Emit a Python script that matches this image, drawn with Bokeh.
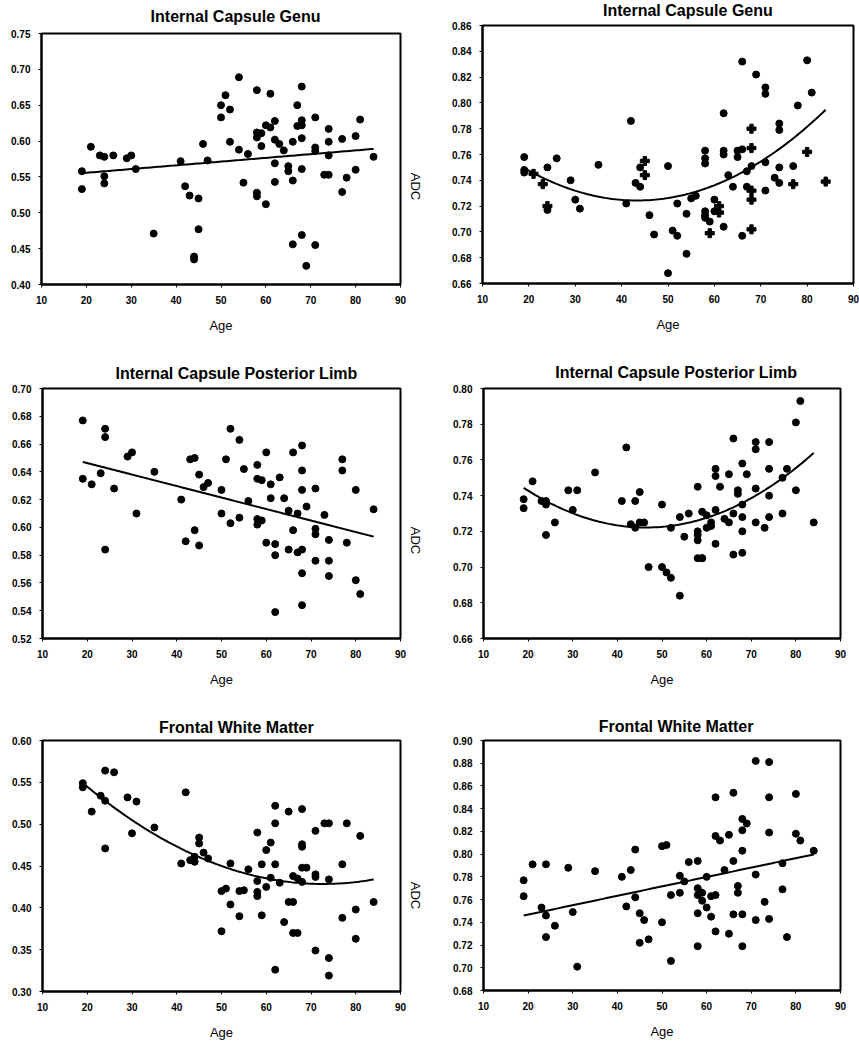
import math
import numpy as np
from bokeh.plotting import figure
from bokeh.layouts import column, row
from bokeh.models import Range1d, FixedTicker, PrintfTickFormatter
from bokeh.core.properties import value
from bokeh.embed import file_html
from bokeh.resources import INLINE

# ---------------- data ----------------
x_ticks = [10, 20, 30, 40, 50, 60, 70, 80, 90]
y_label = "ADC"
x_label = "Age"

# Panel 1: Internal Capsule Genu (linear trend)
title1 = "Internal Capsule Genu"
age1 = [19, 19, 21, 23, 24, 24, 24, 26, 29, 30, 31, 35, 41, 42, 43, 44, 44, 45, 45, 46, 47,
        50, 50, 51, 52, 52, 54, 54, 55, 56, 58, 58, 58, 58, 58, 59, 59, 60, 60, 61, 61,
        62, 62, 62, 62, 63, 64, 65, 65, 66, 66, 66, 67, 67, 68, 68, 68, 68, 68, 68, 69,
        71, 71, 71, 71, 73, 74, 74, 74, 74, 77, 77, 78, 80, 80, 81, 84]
adc1 = [0.558, 0.533, 0.592, 0.580, 0.578, 0.551, 0.541, 0.580, 0.576, 0.580, 0.561, 0.471,
        0.572, 0.537, 0.524, 0.439, 0.435, 0.520, 0.477, 0.596, 0.573,
        0.650, 0.633, 0.664, 0.644, 0.599, 0.689, 0.588, 0.542, 0.582, 0.671, 0.612, 0.605,
        0.528, 0.523, 0.611, 0.593, 0.512, 0.622, 0.666, 0.619,
        0.628, 0.602, 0.569, 0.543, 0.596, 0.587, 0.565, 0.558, 0.599, 0.545, 0.456, 0.650,
        0.621, 0.676, 0.629, 0.622, 0.604, 0.561, 0.469, 0.426,
        0.633, 0.591, 0.586, 0.455, 0.553, 0.553, 0.617, 0.599, 0.580, 0.603, 0.529, 0.549,
        0.607, 0.560, 0.630, 0.578]
yticks1 = [0.40, 0.45, 0.50, 0.55, 0.60, 0.65, 0.70, 0.75]

# Panel 2: Internal Capsule Genu (quadratic trend); circles and cross-shaped points
title2 = "Internal Capsule Genu"
age2 = [19, 19, 19, 24, 24, 26, 29, 30, 31, 35, 41, 42, 43, 44, 44, 46, 47, 50, 50, 51, 52, 52,
        54, 54, 55, 56, 58, 58, 58, 58, 58, 58, 59, 60, 60, 62, 62, 62, 62, 63, 64, 65, 65,
        66, 66, 66, 67, 67, 68, 69, 71, 71, 71, 71, 73, 74, 74, 74, 74, 77, 78, 80, 81]
adc2 = [0.758, 0.748, 0.746, 0.750, 0.717, 0.757, 0.740, 0.725, 0.718, 0.752, 0.722, 0.786,
        0.738, 0.750, 0.735, 0.713, 0.698, 0.751, 0.668, 0.701, 0.722, 0.697,
        0.714, 0.683, 0.726, 0.728, 0.763, 0.757, 0.753, 0.716, 0.713, 0.711, 0.708, 0.725,
        0.716, 0.792, 0.763, 0.760, 0.704, 0.744, 0.735, 0.758, 0.763,
        0.764, 0.832, 0.697, 0.747, 0.735, 0.751, 0.822, 0.812, 0.807, 0.754, 0.732, 0.742,
        0.784, 0.779, 0.750, 0.738, 0.751, 0.798, 0.833, 0.808]
age2_cross = [21, 23, 24, 45, 45, 59, 61, 61, 68, 68, 68, 68, 68, 77, 80, 84]
adc2_cross = [0.745, 0.737, 0.720, 0.755, 0.744, 0.699, 0.720, 0.715, 0.780, 0.765, 0.732,
              0.725, 0.702, 0.737, 0.762, 0.739]
yticks2 = [0.66, 0.68, 0.70, 0.72, 0.74, 0.76, 0.78, 0.80, 0.82, 0.84, 0.86]

# Panel 3: Internal Capsule Posterior Limb (linear trend)
title3 = "Internal Capsule Posterior Limb"
age3 = [19, 19, 21, 23, 24, 24, 24, 26, 29, 30, 31, 35, 41, 42, 43, 44, 44, 45, 45, 46, 47,
        50, 50, 51, 52, 52, 54, 54, 55, 56, 58, 58, 58, 58, 59, 59, 60, 60, 61, 61, 62, 62,
        62, 63, 64, 65, 65, 66, 66, 67, 67, 68, 68, 68, 68, 68, 68, 69, 71, 71, 71, 71, 73,
        74, 74, 74, 77, 77, 78, 80, 80, 81, 84]
adc3 = [0.677, 0.635, 0.631, 0.639, 0.671, 0.665, 0.584, 0.628, 0.651, 0.654, 0.610, 0.640,
        0.620, 0.590, 0.649, 0.650, 0.598, 0.638, 0.587, 0.629, 0.632,
        0.627, 0.610, 0.649, 0.671, 0.603, 0.663, 0.607, 0.642, 0.619, 0.645, 0.635, 0.606,
        0.602, 0.634, 0.605, 0.654, 0.589, 0.631, 0.621, 0.588, 0.580,
        0.539, 0.636, 0.621, 0.612, 0.584, 0.654, 0.598, 0.610, 0.582, 0.659, 0.641, 0.627,
        0.584, 0.567, 0.544, 0.615, 0.628, 0.599, 0.595, 0.576, 0.609,
        0.591, 0.576, 0.565, 0.649, 0.641, 0.589, 0.627, 0.562, 0.552, 0.613]
yticks3 = [0.52, 0.54, 0.56, 0.58, 0.60, 0.62, 0.64, 0.66, 0.68, 0.70]

# Panel 4: Internal Capsule Posterior Limb (quadratic trend)
title4 = "Internal Capsule Posterior Limb"
age4 = [19, 19, 21, 23, 24, 24, 24, 26, 29, 30, 31, 35, 41, 42, 43, 44, 44, 45, 45, 46, 47,
        50, 50, 51, 52, 52, 54, 54, 55, 56, 58, 58, 58, 58, 58, 59, 59, 59, 60, 60, 61, 61,
        62, 62, 62, 62, 63, 64, 65, 65, 66, 66, 66, 67, 67, 68, 68, 68, 68, 68, 69,
        71, 71, 71, 71, 73, 74, 74, 74, 74, 77, 77, 78, 80, 80, 81, 84]
adc4 = [0.738, 0.733, 0.748, 0.737, 0.737, 0.735, 0.718, 0.725, 0.743, 0.732, 0.743, 0.753,
        0.737, 0.767, 0.724, 0.737, 0.722, 0.742, 0.725, 0.725, 0.700,
        0.735, 0.700, 0.697, 0.722, 0.694, 0.728, 0.684, 0.717, 0.730, 0.745, 0.720, 0.718,
        0.715, 0.705, 0.705, 0.731, 0.705, 0.729, 0.722, 0.725, 0.723,
        0.755, 0.751, 0.732, 0.713, 0.745, 0.727, 0.752, 0.725, 0.772, 0.730, 0.707, 0.743,
        0.741, 0.758, 0.735, 0.728, 0.720, 0.708, 0.752,
        0.770, 0.766, 0.744, 0.725, 0.722, 0.770, 0.755, 0.740, 0.728, 0.750, 0.730, 0.755,
        0.781, 0.743, 0.793, 0.725]
yticks4 = [0.66, 0.68, 0.70, 0.72, 0.74, 0.76, 0.78, 0.80]

# Panel 5: Frontal White Matter (quadratic trend)
title5 = "Frontal White Matter"
age5 = [19, 19, 21, 23, 24, 24, 24, 26, 29, 30, 31, 35, 41, 42, 43, 44, 44, 45, 45, 46, 47,
        50, 50, 51, 52, 52, 54, 54, 55, 56, 58, 58, 58, 58, 59, 59, 60, 60, 61, 61, 62, 62,
        62, 62, 63, 64, 65, 65, 66, 66, 66, 67, 67, 68, 68, 68, 68, 68, 69, 71, 71, 71, 71,
        73, 74, 74, 74, 74, 77, 77, 78, 80, 80, 81, 84]
adc5 = [0.549, 0.544, 0.515, 0.534, 0.564, 0.528, 0.471, 0.562, 0.532, 0.489, 0.527, 0.496,
        0.453, 0.538, 0.457, 0.455, 0.461, 0.484, 0.477, 0.466, 0.459,
        0.420, 0.372, 0.423, 0.453, 0.404, 0.420, 0.390, 0.421, 0.446, 0.490, 0.432, 0.419,
        0.414, 0.452, 0.391, 0.469, 0.425, 0.478, 0.436, 0.522, 0.501,
        0.452, 0.326, 0.430, 0.383, 0.515, 0.407, 0.438, 0.407, 0.370, 0.370, 0.435, 0.518,
        0.476, 0.473, 0.448, 0.431, 0.448, 0.492, 0.440, 0.437, 0.349,
        0.501, 0.501, 0.434, 0.340, 0.319, 0.452, 0.388, 0.501, 0.398, 0.363, 0.486, 0.407]
yticks5 = [0.30, 0.35, 0.40, 0.45, 0.50, 0.55, 0.60]

# Panel 6: Frontal White Matter (linear trend)
title6 = "Frontal White Matter"
age6 = [19, 19, 21, 23, 24, 24, 24, 26, 29, 30, 31, 35, 41, 42, 43, 44, 44, 45, 45, 46, 47,
        50, 50, 51, 52, 52, 54, 54, 55, 56, 58, 58, 58, 58, 58, 59, 59, 60, 60, 61, 61,
        62, 62, 62, 62, 63, 64, 65, 65, 66, 66, 66, 67, 67, 68, 68, 68, 68, 68, 69,
        71, 71, 71, 73, 74, 74, 74, 74, 77, 77, 78, 80, 80, 81, 84]
adc6 = [0.777, 0.763, 0.791, 0.753, 0.791, 0.746, 0.727, 0.737, 0.788, 0.749, 0.701, 0.785,
        0.780, 0.754, 0.786, 0.804, 0.762, 0.748, 0.722, 0.742, 0.725,
        0.807, 0.740, 0.808, 0.764, 0.706, 0.781, 0.766, 0.776, 0.793, 0.794, 0.770, 0.764,
        0.748, 0.719, 0.766, 0.759, 0.780, 0.753, 0.763, 0.745,
        0.850, 0.816, 0.764, 0.732, 0.812, 0.786, 0.817, 0.730, 0.854, 0.794, 0.747, 0.772,
        0.766, 0.831, 0.821, 0.803, 0.747, 0.719, 0.827,
        0.882, 0.782, 0.742, 0.758, 0.881, 0.850, 0.819, 0.743, 0.792, 0.769, 0.727, 0.853,
        0.818, 0.812, 0.803]
yticks6 = [0.68, 0.70, 0.72, 0.74, 0.76, 0.78, 0.80, 0.82, 0.84, 0.86, 0.88, 0.90]

# ---------------- helpers ----------------
SANS = "Liberation Sans"


def blank(width, height):
    """A figure with no axes whose data units are pixels (y measured upward)."""
    f = figure(width=width, height=height, x_range=Range1d(0, width),
               y_range=Range1d(0, height), x_axis_type=None, y_axis_type=None,
               output_backend="svg", toolbar_location=None, title=None, min_border=0)
    f.outline_line_color = None
    f.background_fill_color = "white"
    f.border_fill_color = "white"
    f.xgrid.visible = False
    f.ygrid.visible = False
    return f


def title_fig(text, width, height, center_x, middle_from_top):
    f = blank(width, height)
    f.text(x=[center_x], y=[height - middle_from_top], text=[text],
           text_font=value(SANS), text_font_size=value("16px"), text_font_style="bold",
           text_align="center", text_baseline="middle", text_color="black")
    return f


def adc_fig(width, height, cx, cy_from_top):
    f = blank(width, height)
    f.text(x=[cx], y=[height - cy_from_top], text=[y_label], angle=-math.pi / 2,
           text_font=value(SANS), text_font_size=value("13px"),
           text_align="center", text_baseline="middle", text_color="black")
    return f


def panel(ages, vals, yticks, deg, width, height, bl, br, bt, bb,
          cross_ages=None, cross_vals=None):
    p = figure(width=width, height=height,
               x_range=Range1d(x_ticks[0], x_ticks[-1]),
               y_range=Range1d(yticks[0], yticks[-1]),
               output_backend="svg", toolbar_location=None, title=None,
               min_border_left=bl, min_border_right=br,
               min_border_top=bt, min_border_bottom=bb)
    p.background_fill_color = "white"
    p.border_fill_color = "white"
    p.outline_line_color = "black"
    p.outline_line_width = 2
    p.xgrid.visible = False
    p.ygrid.visible = False

    for ax in (p.xaxis[0], p.yaxis[0]):
        ax.axis_line_color = "black"
        ax.axis_line_width = 2
        ax.major_tick_line_color = "black"
        ax.major_tick_line_width = 1
        ax.major_tick_out = 3
        ax.major_tick_in = 0
        ax.minor_tick_line_color = None
        ax.major_label_text_font = SANS
        ax.major_label_text_font_size = "10px"
        ax.major_label_text_font_style = "bold"
        ax.major_label_text_color = "black"

    p.xaxis.ticker = FixedTicker(ticks=x_ticks)
    p.xaxis.formatter = PrintfTickFormatter(format="%d")
    p.xaxis.major_label_standoff = 8
    p.xaxis.axis_label = x_label
    p.xaxis.axis_label_text_font = SANS
    p.xaxis.axis_label_text_font_size = "13px"
    p.xaxis.axis_label_text_font_style = "normal"
    p.xaxis.axis_label_text_color = "black"
    p.xaxis.axis_label_standoff = 11

    p.yaxis.ticker = FixedTicker(ticks=yticks)
    p.yaxis.formatter = PrintfTickFormatter(format="%.2f")
    p.yaxis.major_label_standoff = 8

    all_a = list(ages) + (list(cross_ages) if cross_ages else [])
    all_v = list(vals) + (list(cross_vals) if cross_vals else [])
    coef = np.polyfit(all_a, all_v, deg)
    xs = np.linspace(min(all_a), max(all_a), 120)
    p.line(xs, np.polyval(coef, xs), line_color="black", line_width=2)

    p.scatter(ages, vals, marker="circle", size=7, fill_color="black", line_color="black")
    if cross_ages:
        p.scatter(cross_ages, cross_vals, marker="plus", size=9, fill_color="black",
                  line_color="black")
    return p


# column widths: left block 408 px, gap strip (ADC) 22 px, right block 429 px
LW, GW, RW = 408, 22, 429

# ---- row 1 (338 px) ----
p1 = panel(age1, adc1, yticks1, 1, LW, 312, 41, 8, 7, 54)
t1 = title_fig(title1, LW, 26, 41 + 359 / 2, 15.5)
p2 = panel(age2, adc2, yticks2, 2, RW, 319, 52, 6, 6, 55,
           cross_ages=age2_cross, cross_vals=adc2_cross)
t2 = title_fig(title2, RW, 19, 52 + 371 / 2, 9.5)
g1 = adc_fig(GW, 338, 7, 186)
row1 = row(column(t1, p1), g1, column(t2, p2))

# ---- row 2 (355 px) ----
p3 = panel(age3, adc3, yticks3, 1, LW, 311, 42, 8, 6, 55)
t3 = title_fig(title3, LW, 44, 42 + 358 / 2, 34.5)
p4 = panel(age4, adc4, yticks4, 2, RW, 311, 53, 19, 6, 55)
t4 = title_fig(title4, RW, 44, 53 + 357 / 2, 33.5)
g2 = adc_fig(GW, 355, 7, 202)
row2 = row(column(t3, p3), g2, column(t4, p4))

# ---- row 3 (355 px) ----
p5 = panel(age5, adc5, yticks5, 2, LW, 314, 42, 8, 6, 57)
t5 = title_fig(title5, LW, 41, 42 + 358 / 2, 33.5)
p6 = panel(age6, adc6, yticks6, 1, RW, 314, 53, 19, 6, 58)
t6 = title_fig(title6, RW, 41, 53 + 357 / 2, 32.5)
g3 = adc_fig(GW, 355, 7, 202)
row3 = row(column(t5, p5), g3, column(t6, p6))

layout = column(row1, row2, row3)

with open("out.html", "w") as f:
    f.write(file_html(layout, INLINE))
